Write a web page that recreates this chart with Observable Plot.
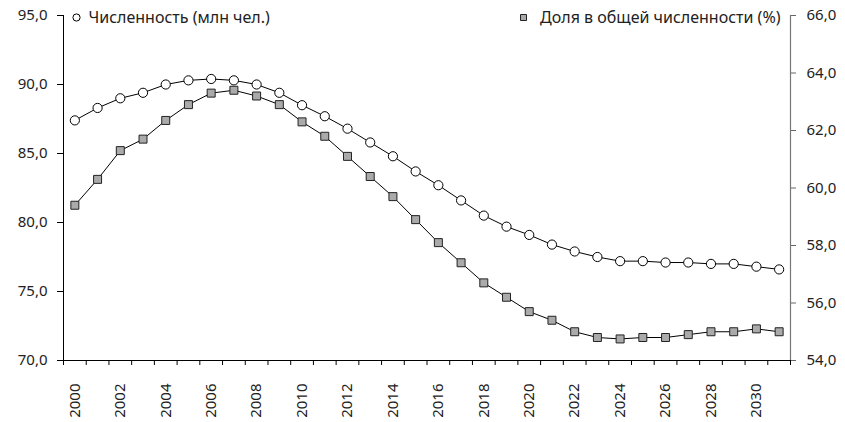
<!DOCTYPE html>
<html>
<head>
<meta charset="utf-8">
<script src="https://cdn.jsdelivr.net/npm/d3@7"></script>
<script src="https://cdn.jsdelivr.net/npm/@observablehq/plot@0.6"></script>
<style>
  html, body { margin: 0; padding: 0; background: #fff; }
</style>
</head>
<body>
<div id="chart"></div>
<script>
const years = [2000, 2001, 2002, 2003, 2004, 2005, 2006, 2007, 2008, 2009, 2010, 2011,
  2012, 2013, 2014, 2015, 2016, 2017, 2018, 2019, 2020, 2021,
  2022, 2023, 2024, 2025, 2026, 2027, 2028, 2029, 2030, 2031];
// Численность (млн чел.) — left axis
const population = [87.4, 88.3, 89.0, 89.4, 90.0, 90.3, 90.4, 90.3, 90.0, 89.4, 88.5, 87.7,
  86.8, 85.8, 84.8, 83.7, 82.7, 81.6, 80.5, 79.7, 79.1, 78.4,
  77.9, 77.5, 77.2, 77.2, 77.1, 77.1, 77.0, 77.0, 76.8, 76.6];
// Доля в общей численности (%) — right axis
const share = [59.4, 60.3, 61.3, 61.7, 62.35, 62.9, 63.3, 63.4, 63.2, 62.9, 62.3, 61.8,
  61.1, 60.4, 59.7, 58.9, 58.1, 57.4, 56.7, 56.2, 55.7, 55.4,
  55.0, 54.8, 54.75, 54.8, 54.8, 54.9, 55.0, 55.0, 55.1, 55.0];
const leftTicks = [70, 75, 80, 85, 90, 95];
const rightTicks = [54, 56, 58, 60, 62, 64, 66];
const xLabelYears = [2000, 2002, 2004, 2006, 2008, 2010, 2012, 2014, 2016, 2018, 2020, 2022, 2024, 2026, 2028, 2030];
const legendLabels = ["Численность (млн чел.)", "Доля в общей численности (%)"];

const leftDomain = [70, 95];
const rightDomain = [54, 66];
const toLeft = v => leftDomain[0] + (v - rightDomain[0]) * (leftDomain[1] - leftDomain[0]) / (rightDomain[1] - rightDomain[0]);
const toRight = v => rightDomain[0] + (v - leftDomain[0]) * (rightDomain[1] - rightDomain[0]) / (leftDomain[1] - leftDomain[0]);
const fmt = v => (Math.round(v * 10) / 10).toFixed(1).replace(".", ",");

const popData = years.map((year, i) => ({year, value: population[i]}));
const shareData = years.map((year, i) => ({year, value: toLeft(share[i])}));
const xMin = years[0] - 0.5, xMax = years[years.length - 1] + 0.5;
const boundaries = years.map(y => y - 0.5).concat([xMax]);

const chart = Plot.plot({
  width: 845,
  height: 422,
  marginLeft: 63,
  marginRight: 55,
  marginTop: 15,
  marginBottom: 62,
  style: {fontFamily: "'Noto Sans', sans-serif", fontSize: "15px", color: "#222", background: "#fff"},
  x: {type: "linear", domain: [xMin, xMax]},
  y: {domain: leftDomain},
  marks: [
    // left axis
    Plot.axisY({anchor: "left", ticks: leftTicks, tickFormat: fmt, tickSize: 6, tickPadding: 10, label: null, stroke: "#000"}),
    Plot.ruleX([xMin], {y1: leftDomain[0], y2: leftDomain[1], stroke: "#000", strokeWidth: 1}),
    // right axis
    Plot.axisY({anchor: "right", ticks: rightTicks.map(toLeft), tickFormat: v => fmt(toRight(v)), tickSize: 5, tickPadding: 11, label: null, stroke: "#666"}),
    Plot.ruleX([xMax], {y1: leftDomain[0], y2: leftDomain[1], stroke: "#777", strokeWidth: 1.2}),
    // bottom axis
    Plot.axisX({ticks: boundaries, tickFormat: () => "", tickSize: 5, label: null, stroke: "#000"}),
    Plot.axisX({ticks: xLabelYears, tickFormat: d => String(d), tickSize: 0, tickPadding: 23, tickRotate: -90, label: null}),
    Plot.ruleY([leftDomain[0]], {x1: xMin, x2: xMax, stroke: "#000", strokeWidth: 1}),
    // series
    Plot.line(popData, {x: "year", y: "value", stroke: "#000", strokeWidth: 1}),
    Plot.line(shareData, {x: "year", y: "value", stroke: "#000", strokeWidth: 1}),
    Plot.dot(popData, {x: "year", y: "value", symbol: "circle", r: 4.6, fill: "#fff", stroke: "#000", strokeWidth: 1}),
    Plot.dot(shareData, {x: "year", y: "value", symbol: "square", r: 4.5, fill: "#aaa", stroke: "#222", strokeWidth: 1}),
    // legend
    Plot.dot([0], {frameAnchor: "top-left", dx: 13, dy: 2, symbol: "circle", r: 3.6, fill: "#fff", stroke: "#000", strokeWidth: 1}),
    Plot.text([legendLabels[0]], {frameAnchor: "top-left", dx: 25, dy: 2, text: d => d, textAnchor: "start", lineAnchor: "middle", fill: "#222", fontSize: 16}),
    Plot.dot([0], {frameAnchor: "top-right", dx: -267, dy: 2, symbol: "square", r: 3.4, fill: "#aaa", stroke: "#222", strokeWidth: 1}),
    Plot.text([legendLabels[1]], {frameAnchor: "top-right", dx: -10, dy: 2, text: d => d, textAnchor: "end", lineAnchor: "middle", fill: "#222", fontSize: 16})
  ]
});
document.getElementById("chart").appendChild(chart);
</script>
</body>
</html>
